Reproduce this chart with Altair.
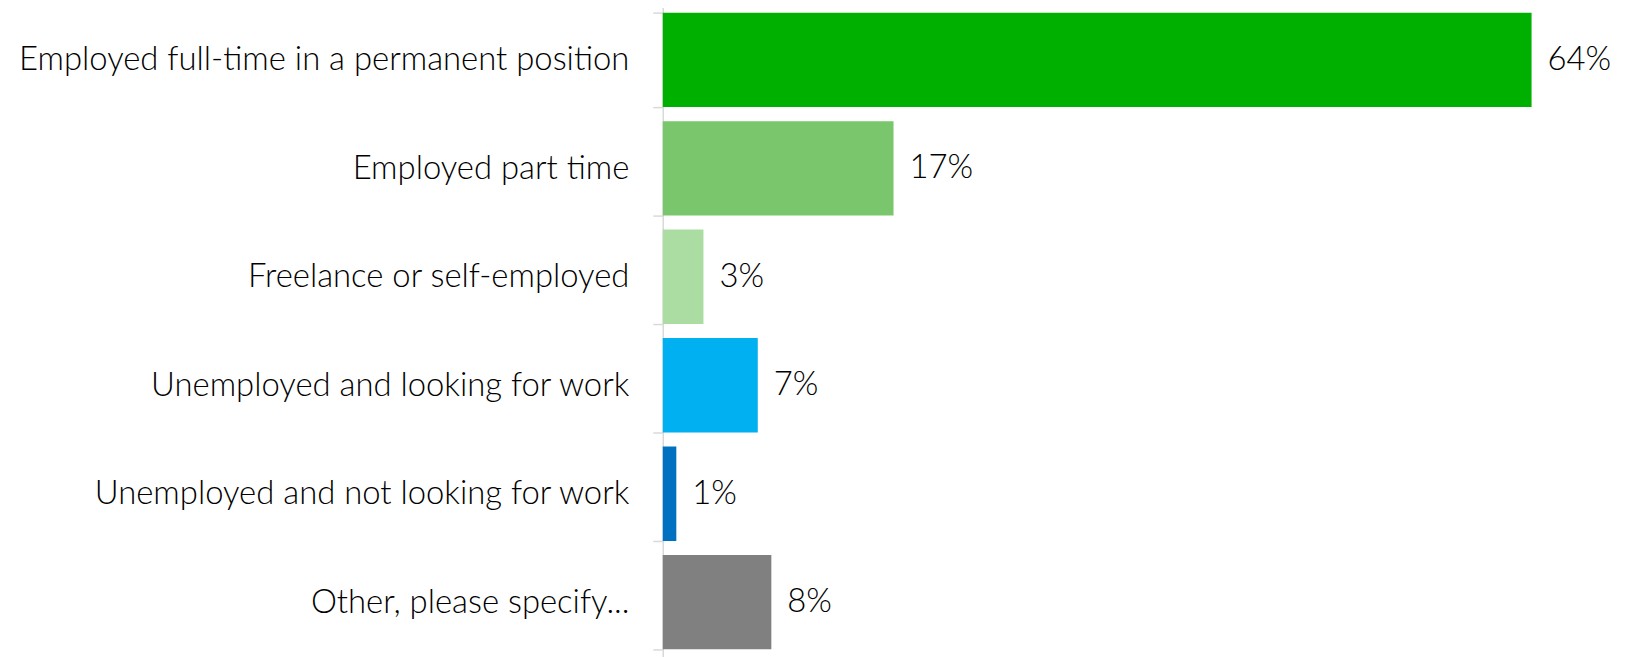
import altair as alt
import pandas as pd

categories = [
    "Employed full-time in a permanent position",
    "Employed part time",
    "Freelance or self-employed",
    "Unemployed and looking for work",
    "Unemployed and not looking for work",
    "Other, please specify...",
]
values = [64, 17, 3, 7, 1, 8]
colors = ["#00B000", "#7AC66C", "#ABDDA3", "#00B0F0", "#0070C0", "#808080"]

df = pd.DataFrame({"cat": categories, "val": values, "col": colors,
                   "lbl": [f"{v}%" for v in values]})

FONT = "Lato"
FS = 33
FW = 300

y = alt.Y("cat:N", sort=categories, title=None,
          scale=alt.Scale(paddingInner=0.13, paddingOuter=0.065),
          axis=alt.Axis(tickBand="extent", tickSize=10, tickColor="#d9d9d9",
                        tickWidth=1.5, domainColor="#d9d9d9", domainWidth=1.5,
                        labelFont=FONT, labelFontSize=FS, labelFontWeight=FW,
                        labelColor="#000000", labelPadding=24, labelLimit=700))
x = alt.X("val:Q", title=None, scale=alt.Scale(domain=[0, 70], nice=False),
          axis=None)

bars = alt.Chart(df).mark_bar().encode(
    x=x, y=y, color=alt.Color("col:N", scale=None))
text = alt.Chart(df).mark_text(align="left", baseline="middle", dx=16,
                               font=FONT, fontSize=FS, fontWeight=FW,
                               color="#000000").encode(
    x=x, y=alt.Y("cat:N", sort=categories), text="lbl:N")

chart = (bars + text).properties(
    width=955, height=654,
    autosize=alt.AutoSizeParams(type="none"),
    padding={"left": 658, "top": -4, "right": 4, "bottom": 0},
).configure_view(stroke=None)

chart.save("out.html", embed_options={"renderer": "svg", "actions": False})
